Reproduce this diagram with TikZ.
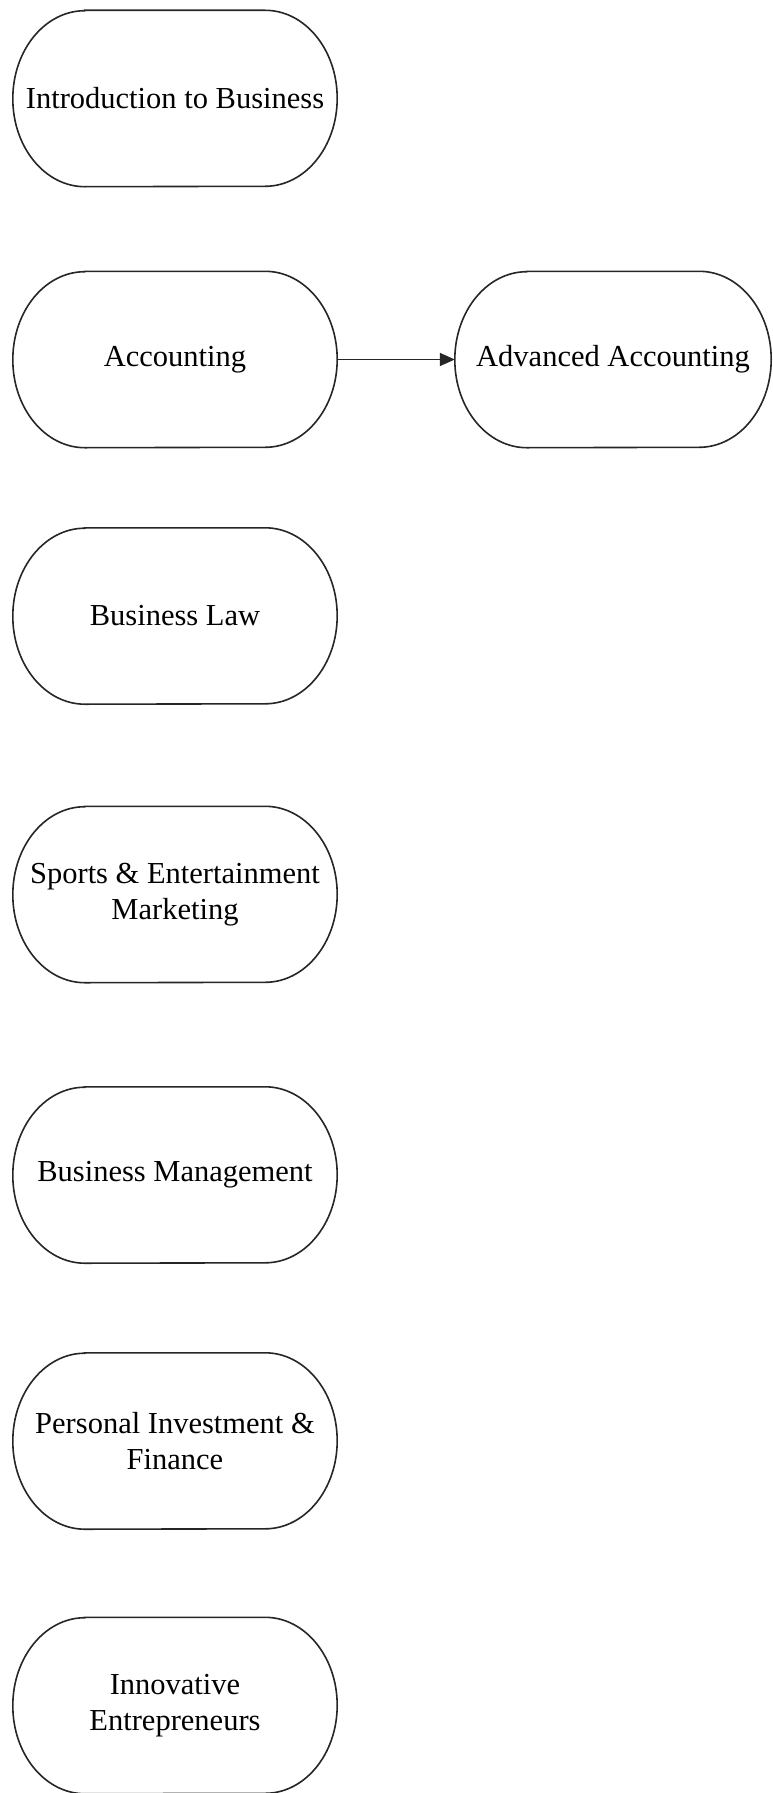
\documentclass[tikz,border=0pt]{standalone}
\usepackage{fontspec}
\setmainfont{Liberation Serif}
\usetikzlibrary{arrows.meta}
\begin{document}
\begin{tikzpicture}[x=1pt,y=1pt,
  course/.style={draw=none, inner sep=0pt, minimum height=176pt, minimum width=324pt, align=center, font=\fontsize{30.5}{36}\selectfont},
  outline/.style={draw=black!85, line width=1.6pt},
  link/.style={draw=black!85, line width=1.6pt, -{Triangle[length=15pt,width=13pt]}}]
\fill[white] (0,0) rectangle (772,-1793);
\useasboundingbox (0,0) rectangle (772,-1793);
\node[course] (intro) at (175,-98.5) {Introduction to Business};
\node[course] (acc) at (175,-359.5) {Accounting};
\node[course, minimum width=316pt] (adv) at (613,-359.5) {Advanced Accounting};
\node[course] (law) at (175,-616) {Business Law};
\node[course] (sports) at (175,-894.5) {Sports \& Entertainment\\Marketing};
\node[course] (mgmt) at (175,-1175) {Business Management};
\node[course] (invest) at (175,-1441) {Personal Investment \&\\Finance};
\node[course] (innov) at (175,-1705.5) {Innovative\\Entrepreneurs};
\foreach \n in {intro,acc,adv,law,sports,mgmt,invest,innov}
  \draw[outline] ([xshift=72pt]\n.north west) -- ([xshift=-72pt]\n.north east)
    arc[start angle=90,end angle=-90,x radius=72pt,y radius=88pt]
    -- ([xshift=72pt]\n.south west)
    arc[start angle=270,end angle=90,x radius=72pt,y radius=88pt] -- cycle;
\draw[link] (acc.east) -- (adv.west);
\end{tikzpicture}
\end{document}
